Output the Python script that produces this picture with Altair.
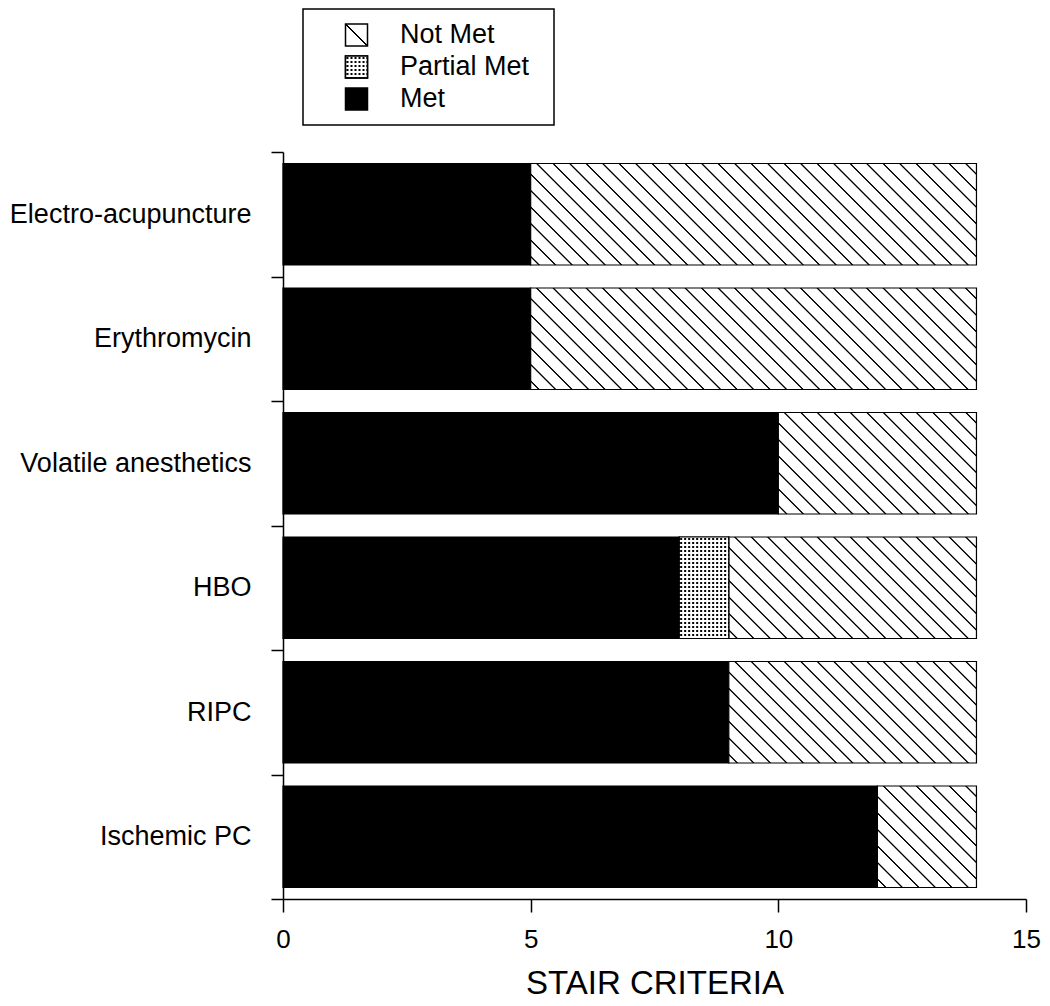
import altair as alt
import pandas as pd

# ---------------- data ----------------
treatments = ["Electro-acupuncture", "Erythromycin", "Volatile anesthetics", "HBO", "RIPC", "Ischemic PC"]
met = [5, 5, 10, 8, 9, 12]
partial_met = [0, 0, 0, 1, 0, 0]
not_met = [9, 9, 4, 5, 5, 2]
statuses = ["Not Met", "Partial Met", "Met"]
x_ticks = [0, 5, 10, 15]
x_title = "STAIR CRITERIA"

rows = []
for t, m, p, n in zip(treatments, met, partial_met, not_met):
    s = 0
    for status, cnt in (("Met", m), ("Partial Met", p), ("Not Met", n)):
        if cnt > 0:
            rows.append({"treatment": t, "status": status, "start": s, "end": s + cnt, "count": cnt})
        s += cnt
df = pd.DataFrame(rows)
leg_df = pd.DataFrame({"status": statuses})

# ---------------- style ----------------
FONT = "Liberation Sans"
PLOT_W = 743
PLOT_H = 747
X_MAX = 15
BAND = 0.815
LEG_W, LEG_H, LEG_SQ = 251, 116, 22
px_per_unit = PLOT_W / X_MAX
bar_h = PLOT_H / len(treatments) * BAND
WHITE, BLACK, CLEAR = "white", "black", "rgba(255,255,255,0)"


def clip01(v):
    return max(0.0, min(1.0, v))


def hatch(w, h, spacing=16.5, core=0.5, soft=0.9, phase=6.0, lines=None):
    """Diagonal '\\' hatching as a linear gradient (bbox units)."""
    total = w + h
    a = total * w / (w * w + h * h)
    if lines is None:
        lines = []
        d = phase
        while d - spacing > -h - 3:
            d -= spacing
        while d < w + 3:
            lines.append(d)
            d += spacing
    stops = [{"offset": 0.0, "color": WHITE}]
    for d in lines:
        for off, col in ((d - core - soft, WHITE), (d - core, BLACK), (d + core, BLACK), (d + core + soft, WHITE)):
            stops.append({"offset": clip01((off + h) / total), "color": col})
    stops.append({"offset": 1.0, "color": WHITE})
    return {"gradient": "linear", "x1": 0, "y1": 1, "x2": a, "y2": 1 - a * h / w, "stops": stops}


def stripes(length, on, off, vertical, period=4.0, first=1.0, edge=0.35):
    stops = [{"offset": 0.0, "color": off}]
    p = first
    while p < length:
        for o, col in ((p - edge, off), (p + edge, on), (p + 2 - edge, on), (p + 2 + edge, off)):
            stops.append({"offset": clip01(o / length), "color": col})
        p += period
    stops.append({"offset": 1.0, "color": off})
    if vertical:
        return {"gradient": "linear", "x1": 0, "y1": 0, "x2": 1, "y2": 0, "stops": stops}
    return {"gradient": "linear", "x1": 0, "y1": 0, "x2": 0, "y2": 1, "stops": stops}


# ---------------- main chart ----------------
conds = []
for n in sorted(set(not_met)):
    conds.append({"test": f"datum.status === 'Not Met' && datum.count === {n}",
                  "value": hatch(n * px_per_unit, bar_h)})
for p in sorted(set(v for v in partial_met if v > 0)):
    conds.append({"test": f"datum.status === 'Partial Met' && datum.count === {p}",
                  "value": stripes(p * px_per_unit, BLACK, WHITE, True)})

y_enc = alt.Y("treatment:N", sort=treatments, title=None,
              scale=alt.Scale(paddingInner=0, paddingOuter=0),
              axis=alt.Axis(tickBand="extent", tickSize=12, tickWidth=1.5, tickColor="black",
                            domainColor="black", domainWidth=1.5,
                            labelFont=FONT, labelFontSize=27, labelColor="black",
                            labelPadding=20, labelLimit=500))
x_enc = alt.X("start:Q", scale=alt.Scale(domain=[0, X_MAX], nice=False, zero=True),
              axis=alt.Axis(values=x_ticks, format="d", grid=False, tickSize=13, tickWidth=1.5,
                            tickColor="black", domainColor="black", domainWidth=1.5,
                            labelFont=FONT, labelFontSize=26, labelColor="black", labelPadding=14,
                            labelFlush=False,
                            title=x_title, titleFont=FONT, titleFontSize=33, titleFontWeight="normal",
                            titleColor="black", titlePadding=15))

base = alt.Chart(df)
bars = base.mark_bar(height={"band": BAND}, stroke="black", strokeWidth=1.2).encode(
    x=x_enc, x2="end:Q", y=y_enc,
    fill=alt.FillValue(value="black", condition=conds),
)
overlays = []
for p in sorted(set(v for v in partial_met if v > 0)):
    overlays.append(
        base.transform_filter(f"datum.status === 'Partial Met' && datum.count === {p}")
        .mark_bar(height={"band": BAND}, stroke="black", strokeWidth=1.2,
                  fill=stripes(bar_h, CLEAR, WHITE, False))
        .encode(x="start:Q", x2="end:Q", y=alt.Y("treatment:N", sort=treatments))
    )
main = alt.layer(bars, *overlays).properties(width=PLOT_W, height=PLOT_H)

# ---------------- legend ----------------
leg_y = alt.Y("status:N", sort=statuses, axis=None, scale=alt.Scale(type="point", padding=0.8125))
leg_conds = [
    {"test": "datum.status === 'Not Met'", "value": hatch(LEG_SQ, LEG_SQ, lines=[0.0], core=0.5, soft=0.8)},
    {"test": "datum.status === 'Partial Met'", "value": stripes(LEG_SQ, BLACK, WHITE, True)},
]
SQ_OFF = -72
leg_sq = alt.Chart(leg_df).mark_square(size=LEG_SQ * LEG_SQ, stroke="black", strokeWidth=1.5,
                                       opacity=1).encode(
    y=leg_y, xOffset=alt.value(SQ_OFF), fill=alt.FillValue(value="black", condition=leg_conds))
leg_sq2 = alt.Chart(leg_df).transform_filter("datum.status === 'Partial Met'").mark_square(
    size=LEG_SQ * LEG_SQ, stroke="black", strokeWidth=1.5, opacity=1,
    fill=stripes(LEG_SQ, CLEAR, WHITE, False)).encode(y=leg_y, xOffset=alt.value(SQ_OFF))
leg_txt = alt.Chart(leg_df).mark_text(align="left", baseline="middle", dx=-28.5, font=FONT,
                                      fontSize=27, color="black").encode(y=leg_y, text="status:N")
legend = alt.layer(leg_sq, leg_sq2, leg_txt).properties(
    width=LEG_W, height=LEG_H, view=alt.ViewBackground(stroke="black", strokeWidth=1.5))

# empty spacer that pushes the legend box to the right of the plot's left edge
spacer = alt.Chart(leg_df).transform_filter("false").mark_point().properties(width=1, height=1)
top = alt.hconcat(spacer, legend, spacing=18)

chart = alt.vconcat(top, main, spacing=11).properties(
    padding=0, background="white"
).configure_view(stroke="transparent")

chart.save("out.html", embed_options={"renderer": "svg", "actions": False})
